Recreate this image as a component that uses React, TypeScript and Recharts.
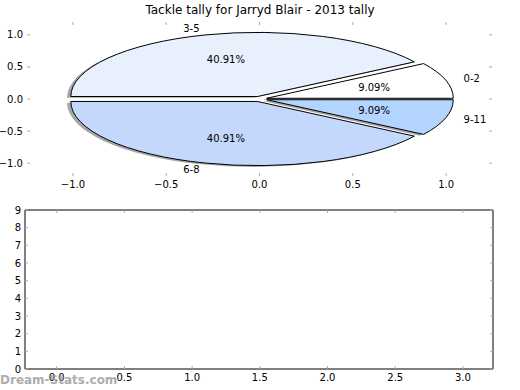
import { ScatterChart, Scatter, XAxis, YAxis, PieChart, Pie, Cell } from 'recharts'

const TITLE = 'Tackle tally for Jarryd Blair - 2013 tally'
const WATERMARK = 'Dream-Stats.com'

// tackle buckets and how many games fell in each
const buckets = ['0-2', '3-5', '6-8', '9-11']
const games = [2, 9, 9, 2]
const bucketColors = ['#ffffff', '#e9f0fd', '#c4d8fc', '#b3d4fe']

const pieTicks = [-1, -0.5, 0, 0.5, 1]
const pieXDomain: [number, number] = [-1.246, 1.246]
const pieYDomain: [number, number] = [-1.2, 1.2]

const lowerXTicks = [0, 0.5, 1, 1.5, 2, 2.5, 3]
const lowerYTicks = [0, 1, 2, 3, 4, 5, 6, 7, 8, 9]
const lowerXDomain: [number, number] = [-0.234, 3.222]
const lowerYDomain: [number, number] = [0, 9]

const pieData = buckets.map((name, i) => ({ name, value: games[i] }))

const FONT = '"DejaVu Sans", Verdana, sans-serif'
const W = 520
const TICK_LEN = 3
const TICK_COLOR = '#aaa'
const RAD = Math.PI / 180
const EXPLODE = 0.04

// plot boxes (px, relative to each chart)
const TOP = { h: 200, left: 27, right: 492, top: 22, bottom: 176 }
const LOW = { y: 200, h: 190, left: 25, right: 493, top: 10, bottom: 169 }

const RX = (TOP.right - TOP.left) / (pieXDomain[1] - pieXDomain[0])
const RY = (TOP.bottom - TOP.top) / (pieYDomain[1] - pieYDomain[0])
const CX = TOP.left - pieXDomain[0] * RX
const CY = TOP.top + pieYDomain[1] * RY

const fmt1 = (v: number) => v.toFixed(1).replace('-', '\u2212')
const fmt0 = (v: number) => String(v)

const txt = { fontSize: 10, fill: '#000', fontFamily: FONT }

const bottomTick = (axisY: number, f: (v: number) => string) => (p: any) => (
  <g>
    <line x1={p.x} x2={p.x} y1={axisY} y2={axisY - TICK_LEN} stroke={TICK_COLOR} />
    <text x={p.x} y={axisY + 5} dy="0.71em" textAnchor="middle" {...txt}>{f(p.payload.value)}</text>
  </g>
)
const topTick = (axisY: number) => (p: any) => (
  <line x1={p.x} x2={p.x} y1={axisY} y2={axisY + TICK_LEN} stroke={TICK_COLOR} />
)
const leftTick = (axisX: number, f: (v: number) => string) => (p: any) => (
  <g>
    <line x1={axisX} x2={axisX + TICK_LEN} y1={p.y} y2={p.y} stroke={TICK_COLOR} />
    <text x={axisX - 4} y={p.y} dy="0.35em" textAnchor="end" {...txt}>{f(p.payload.value)}</text>
  </g>
)
const rightTick = (axisX: number) => (p: any) => (
  <line x1={axisX} x2={axisX - TICK_LEN} y1={p.y} y2={p.y} stroke={TICK_COLOR} />
)

// elliptical, exploded wedge drawn from the angles recharts computed
const wedge = (shiftX: number, shiftY: number, shadow: boolean) => (p: any) => {
  const a0 = p.startAngle * RAD
  const a1 = p.endAngle * RAD
  const mid = (a0 + a1) / 2
  const ox = p.cx + EXPLODE * RX * Math.cos(mid) + shiftX
  const oy = p.cy - EXPLODE * RY * Math.sin(mid) + shiftY
  const rx = p.outerRadius
  const ry = p.outerRadius * RY / RX
  const large = Math.abs(p.endAngle - p.startAngle) > 180 ? 1 : 0
  const d = `M${ox},${oy}L${ox + rx * Math.cos(a0)},${oy - ry * Math.sin(a0)}` +
    `A${rx},${ry} 0 ${large} 0 ${ox + rx * Math.cos(a1)},${oy - ry * Math.sin(a1)}Z`
  return shadow
    ? <path d={d} fill="#4d4d4d" fillOpacity={0.5} stroke="none" />
    : <path d={d} fill={p.fill} stroke="#000" strokeWidth={1} strokeLinejoin="miter" />
}

const sliceLabel = (p: any) => {
  const mid = p.midAngle * RAD
  const c = Math.cos(mid)
  const s = Math.sin(mid)
  const ox = p.cx + EXPLODE * RX * c
  const oy = p.cy - EXPLODE * RY * s
  const name = p.payload?.name ?? p.name
  return (
    <g>
      <text x={ox + 1.1 * RX * c} y={oy - 1.1 * RY * s} dy="0.35em" textAnchor={c > 0 ? 'start' : 'end'} {...txt}>{name}</text>
      <text x={ox + 0.6 * RX * c} y={oy - 0.6 * RY * s} dy="0.35em" textAnchor="middle" {...txt}>{(p.percent * 100).toFixed(2)}%</text>
    </g>
  )
}

export default function App() {
  const shadowShape = wedge(-0.02 * RX, 0.02 * RY, true)
  const mainShape = wedge(0, 0, false)
  return (
    <div style={{ position: 'fixed', left: 0, top: 0, width: W, height: 390, background: '#fff', fontFamily: FONT, overflow: 'hidden' }}>
      <div style={{ position: 'absolute', left: 0, top: 2, width: W, textAlign: 'center', fontSize: 12, lineHeight: '16px' }}>{TITLE}</div>

      <div style={{ position: 'absolute', left: 0, top: 0 }}>
        <ScatterChart width={W} height={TOP.h}
          margin={{ top: TOP.top - 4, right: W - TOP.right - 4, bottom: TOP.h - TOP.bottom - 24, left: 0 }}>
          <XAxis xAxisId="b" type="number" dataKey="x" domain={pieXDomain} allowDataOverflow ticks={pieTicks} interval={0}
            height={24} axisLine={false} tickLine={false} tickSize={0} tick={bottomTick(TOP.bottom, fmt1)} />
          <XAxis xAxisId="t" orientation="top" type="number" dataKey="x" domain={pieXDomain} allowDataOverflow ticks={pieTicks} interval={0}
            height={4} axisLine={false} tickLine={false} tickSize={0} tick={topTick(TOP.top)} />
          <YAxis yAxisId="l" type="number" dataKey="y" domain={pieYDomain} allowDataOverflow ticks={pieTicks} interval={0}
            width={TOP.left} axisLine={false} tickLine={false} tickSize={0} tick={leftTick(TOP.left, fmt1)} />
          <YAxis yAxisId="r" orientation="right" type="number" dataKey="y" domain={pieYDomain} allowDataOverflow ticks={pieTicks} interval={0}
            width={4} axisLine={false} tickLine={false} tickSize={0} tick={rightTick(TOP.right)} />
          <Scatter data={[]} xAxisId="b" yAxisId="l" isAnimationActive={false} />
          <Scatter data={[]} xAxisId="t" yAxisId="r" isAnimationActive={false} />
        </ScatterChart>
      </div>

      <div style={{ position: 'absolute', left: 0, top: 0, pointerEvents: 'none' }}>
        <PieChart width={W} height={TOP.h} margin={{ top: 0, right: 0, bottom: 0, left: 0 }}>
          <Pie data={pieData} dataKey="value" nameKey="name" cx={CX} cy={CY} innerRadius={0} outerRadius={RX}
            startAngle={0} endAngle={360} stroke="none" isAnimationActive={false}
            shape={shadowShape} inactiveShape={shadowShape} activeShape={shadowShape} labelLine={false} label={false}>
            {pieData.map((d, i) => <Cell key={d.name} fill={bucketColors[i]} />)}
          </Pie>
          <Pie data={pieData} dataKey="value" nameKey="name" cx={CX} cy={CY} innerRadius={0} outerRadius={RX}
            startAngle={0} endAngle={360} stroke="#000" isAnimationActive={false}
            shape={mainShape} inactiveShape={mainShape} activeShape={mainShape} labelLine={false} label={sliceLabel}>
            {pieData.map((d, i) => <Cell key={d.name} fill={bucketColors[i]} />)}
          </Pie>
        </PieChart>
      </div>

      <div style={{ position: 'absolute', left: 0, top: LOW.y }}>
        <ScatterChart width={W} height={LOW.h}
          margin={{ top: LOW.top - 4, right: W - LOW.right - 4, bottom: LOW.h - LOW.bottom - 21, left: 0 }}>
          <XAxis xAxisId="b" type="number" dataKey="x" domain={lowerXDomain} allowDataOverflow ticks={lowerXTicks} interval={0}
            height={21} axisLine={{ stroke: '#000' }} tickLine={false} tickSize={0} tick={bottomTick(LOW.bottom, fmt1)} />
          <XAxis xAxisId="t" orientation="top" type="number" dataKey="x" domain={lowerXDomain} allowDataOverflow ticks={lowerXTicks} interval={0}
            height={4} axisLine={{ stroke: '#000' }} tickLine={false} tickSize={0} tick={topTick(LOW.top)} />
          <YAxis yAxisId="l" type="number" dataKey="y" domain={lowerYDomain} allowDataOverflow ticks={lowerYTicks} interval={0}
            width={LOW.left} axisLine={{ stroke: '#000' }} tickLine={false} tickSize={0} tick={leftTick(LOW.left, fmt0)} />
          <YAxis yAxisId="r" orientation="right" type="number" dataKey="y" domain={lowerYDomain} allowDataOverflow ticks={lowerYTicks} interval={0}
            width={4} axisLine={{ stroke: '#000' }} tickLine={false} tickSize={0} tick={rightTick(LOW.right)} />
          <Scatter data={[]} xAxisId="b" yAxisId="l" isAnimationActive={false} />
          <Scatter data={[]} xAxisId="t" yAxisId="r" isAnimationActive={false} />
        </ScatterChart>
      </div>

      <div style={{ position: 'absolute', left: 0, top: 372, fontSize: 12, fontWeight: 'bold', color: '#999', opacity: 0.8, lineHeight: '16px' }}>{WATERMARK}</div>
    </div>
  )
}
